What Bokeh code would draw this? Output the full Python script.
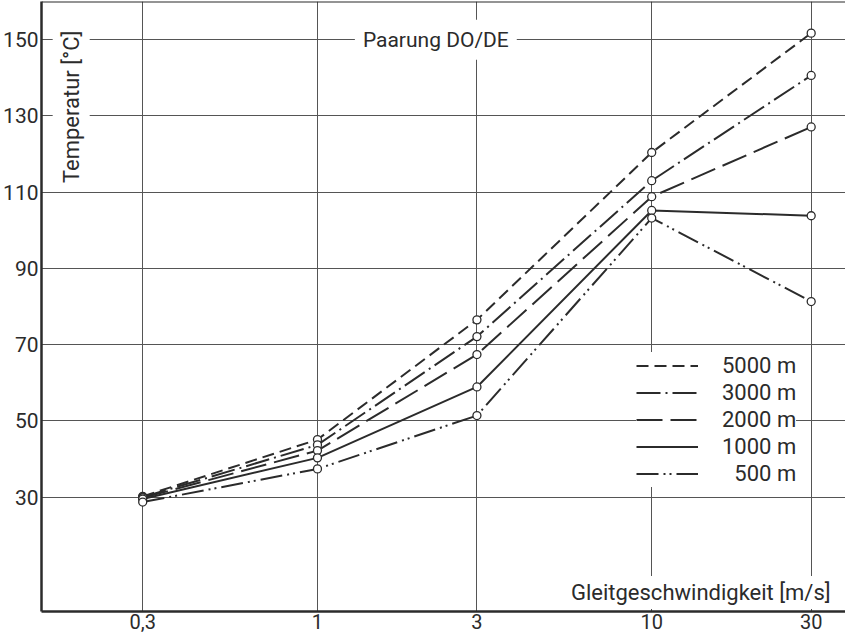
import math
from bokeh.plotting import figure
from bokeh.models import (FixedTicker, CustomJSTickFormatter, Label, Legend,
                          LegendItem, Span, Range1d)
from bokeh.embed import file_html
from bokeh.resources import INLINE

# ---- data ----
speed = [0.3, 1, 3, 10, 30]
x_ticks = [0.3, 1, 3, 10, 30]
y_ticks = [30, 50, 70, 90, 110, 130, 150]
series_names = ["5000 m", "3000 m", "2000 m", "1000 m", "\u2007500 m"]
temp_5000 = [30.2, 45.1, 76.5, 120.4, 151.7]
temp_3000 = [30.0, 43.7, 72.1, 113.0, 140.6]
temp_2000 = [29.8, 42.2, 67.4, 108.8, 127.1]
temp_1000 = [29.5, 40.3, 58.9, 105.2, 103.8]
temp_500 = [28.7, 37.4, 51.4, 103.2, 81.3]
series_values = [temp_5000, temp_3000, temp_2000, temp_1000, temp_500]

# ---- styles ----
dashes = ["12 6", "24 5 2 5", "26 8", "solid", "22 5 2 4 2 5"]
FONT = "Roboto"
INK = "#2b2b2b"
GRID = "#555555"

p = figure(width=845, height=633, x_axis_type="log",
           x_range=Range1d(0.1494, 38.0), y_range=Range1d(0, 160),
           output_backend="svg", toolbar_location=None,
           min_border_left=0, min_border_right=0, min_border_top=1,
           min_border_bottom=22)
p.outline_line_color = None
p.background_fill_color = "white"
p.border_fill_color = "white"

p.xaxis.ticker = FixedTicker(ticks=x_ticks, minor_ticks=[])
p.yaxis.ticker = FixedTicker(ticks=y_ticks, minor_ticks=[])
p.xaxis.formatter = CustomJSTickFormatter(code="return String(tick).replace('.', ',')")

for ax in (p.xaxis, p.yaxis):
    ax.major_tick_in = 0
    ax.major_tick_out = 0
    ax.minor_tick_in = 0
    ax.minor_tick_out = 0
    ax.axis_line_color = INK
    ax.axis_line_width = 2.5
    ax.major_label_text_font = FONT
    ax.major_label_text_color = INK
p.yaxis.major_label_text_font_size = "21px"
p.xaxis.major_label_text_font_size = "20px"
p.yaxis.major_label_standoff = 3
p.xaxis.major_label_standoff = 2

p.xgrid.grid_line_color = GRID
p.ygrid.grid_line_color = GRID
p.xgrid.grid_line_width = 1
p.ygrid.grid_line_width = 1
p.xgrid.grid_line_alpha = 1
p.ygrid.grid_line_alpha = 1

p.add_layout(Span(location=160, dimension="width", line_color=INK, line_width=2))

items = []
for name, vals, dash in zip(series_names, series_values, dashes):
    r = p.line(speed, vals, line_color=INK, line_width=2, line_dash=dash)
    p.scatter(speed, vals, marker="circle", size=8, line_color=INK,
              line_width=1.3, fill_color="white")
    items.append(LegendItem(label=name, renderers=[r]))

legend = Legend(items=items, location=(595, 124), glyph_width=62,
                glyph_height=27, label_height=27, spacing=0,
                label_standoff=24, padding=8, margin=0,
                label_text_font=FONT, label_text_font_size="22px",
                label_text_color=INK, background_fill_color="white",
                background_fill_alpha=1, border_line_color=None)
p.add_layout(legend)

p.add_layout(Label(x=2.26, y=150, text="Paarung DO/DE", text_align="center",
                   text_baseline="middle", text_font=FONT,
                   text_font_size="21px", text_color=INK,
                   background_fill_color="white", padding=8))
p.add_layout(Label(x=0.1833, y=153.9, text="Temperatur [\u00b0C]",
                   angle=math.pi / 2, text_align="right",
                   text_baseline="alphabetic", text_font=FONT,
                   text_font_size="22px", text_color=INK,
                   background_fill_color="white", padding=6))
p.add_layout(Label(x=35.26, y=5.0, text="Gleitgeschwindigkeit [m/s]",
                   text_align="right", text_baseline="alphabetic",
                   text_font=FONT, text_font_size="22px", text_color=INK,
                   background_fill_color="white", padding=4))

open("out.html", "w").write(file_html(p, INLINE))
